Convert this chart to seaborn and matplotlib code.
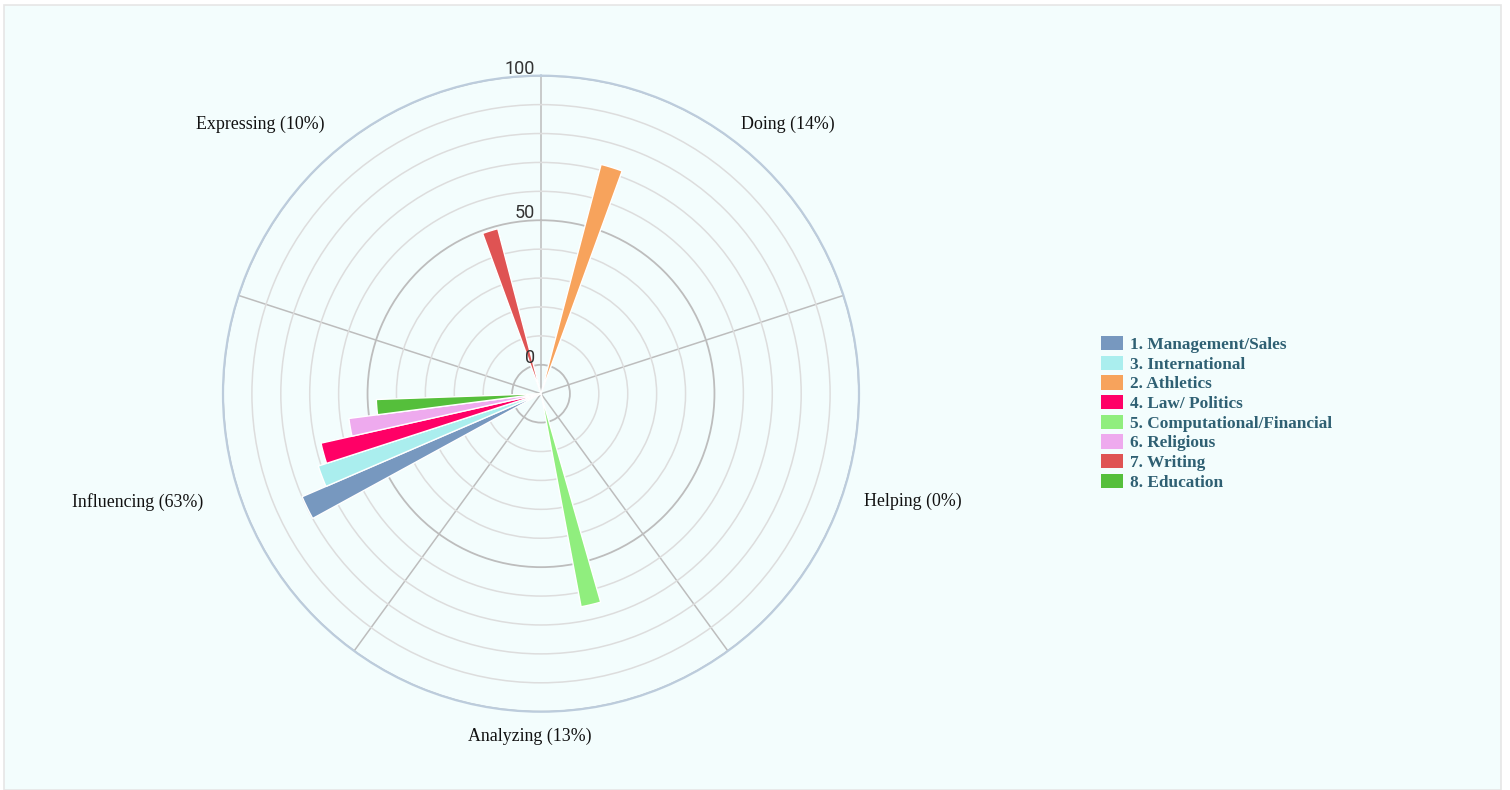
import numpy as np
import matplotlib
matplotlib.use("Agg")
import matplotlib.pyplot as plt
import matplotlib.transforms as mtransforms
from matplotlib.patches import Patch, Rectangle
import seaborn as sns

# ---------------- data ----------------
sectors = ["Doing (14%)", "Helping (0%)", "Analyzing (13%)", "Influencing (63%)", "Expressing (10%)"]
series_names = ["1. Management/Sales", "3. International", "2. Athletics", "4. Law/ Politics",
                "5. Computational/Financial", "6. Religious", "7. Writing", "8. Education"]
series_colors = ["#7798BF", "#AAEEEE", "#F7A35C", "#FF0066", "#90EE7E", "#EEAAEE", "#DF5353", "#55BF3B"]
# angular slot order of the series inside each sector (clockwise)
slot_order = ["2. Athletics", "5. Computational/Financial", "1. Management/Sales", "3. International",
              "4. Law/ Politics", "6. Religious", "8. Education", "7. Writing"]

management = [0, 0, 0, 80, 0]
international = [0, 0, 0, 71, 0]
athletics = [72, 0, 0, 0, 0]
law_politics = [0, 0, 0, 68, 0]
computational = [0, 0, 65, 0, 0]
religious = [0, 0, 0, 57, 0]
writing = [0, 0, 0, 0, 49]
education = [0, 0, 0, 47, 0]
series_values = [management, international, athletics, law_politics,
                 computational, religious, writing, education]

r_ticks = [0, 50, 100]
r_min, r_max = -10, 100

# ---------------- style ----------------
sns.set_theme(style="white")
plt.rcParams["font.family"] = ["Liberation Serif", "DejaVu Serif"]

W, H, DPI = 1510, 790, 100
fig = plt.figure(figsize=(W / DPI, H / DPI), dpi=DPI, facecolor="white")
# panel background
fig.patches.append(Rectangle((4 / W, 0), 1497 / W, 785 / H, transform=fig.transFigure,
                             facecolor="#F3FDFD", edgecolor="#E6E6E6", linewidth=1.2, zorder=-10))

R = 318
cx, cy = 541, 790 - 393.7
ax = fig.add_axes([(cx - R) / W, (cy - R) / H, 2 * R / W, 2 * R / H], projection="polar")
ax.set_zorder(1)
ax.set_facecolor("none")
ax.set_theta_zero_location("N")
ax.set_theta_direction(-1)
ax.set_ylim(r_min, r_max)

n_sec = len(sectors)
sec_w = 2 * np.pi / n_sec
n_slots = len(slot_order)
group_frac = 0.592
slot_w = sec_w * group_frac / n_slots

palette = sns.color_palette(series_colors)
for name, vals, col in zip(series_names, series_values, palette):
    k = slot_order.index(name)
    for i, v in enumerate(vals):
        if v <= 0:
            continue
        theta = i * sec_w + sec_w / 2 + (k - (n_slots - 1) / 2) * slot_w
        ax.bar(theta, v - r_min, width=slot_w, bottom=r_min, color=col,
               edgecolor="white", linewidth=1.0, align="center", zorder=3)

# grid
ax.set_xticks(np.arange(n_sec) * sec_w)
ax.set_xticklabels([])
ax.xaxis.grid(True, color="#BDBDBD", linewidth=1.1)
ax.set_yticks(r_ticks)
ax.set_yticklabels([])
ax.yaxis.grid(True, color="#BDBDBD", linewidth=1.3)
ax.set_yticks([10, 20, 30, 40, 60, 70, 80, 90], minor=True)
ax.yaxis.grid(True, which="minor", color="#DDDDDD", linewidth=1.1)
ax.tick_params(axis="both", which="both", length=0)
ax.spines["polar"].set_color("#BCCCDC")
ax.spines["polar"].set_linewidth(1.6)

# radial labels
off = mtransforms.offset_copy(ax.transData, fig=fig, x=-6, y=2, units="dots")
for t in r_ticks:
    ax.text(0, t, str(t), transform=off, ha="right", va="baseline",
            fontsize=13, family="Roboto", fontweight="normal", color="#333333", zorder=5)

# category labels (axes-fraction anchor per sector)
label_xy = [(0.888, 0.924), (1.085, 0.330), (0.483, -0.038), (-0.134, 0.330), (0.058, 0.924)]
for name, (lx, ly) in zip(sectors, label_xy):
    ax.text(lx, ly, name, transform=ax.transAxes, ha="center", va="center",
            fontsize=12.9, color="#111111", clip_on=False)

# legend
handles = [Patch(facecolor=c, edgecolor="none", label=n) for n, c in zip(series_names, palette)]
leg = fig.legend(handles=handles, loc="upper left", bbox_to_anchor=(1101 / W, 1 - 336 / H),
                 frameon=False, borderpad=0, borderaxespad=0,
                 handlelength=1.3, handleheight=0.9, handletextpad=0.4, labelspacing=0.15,
                 prop={"family": "Liberation Serif", "weight": "bold", "size": 12.4})
for txt in leg.get_texts():
    txt.set_color("#2F6073")

fig.savefig("out.png", dpi=DPI, facecolor="white")
